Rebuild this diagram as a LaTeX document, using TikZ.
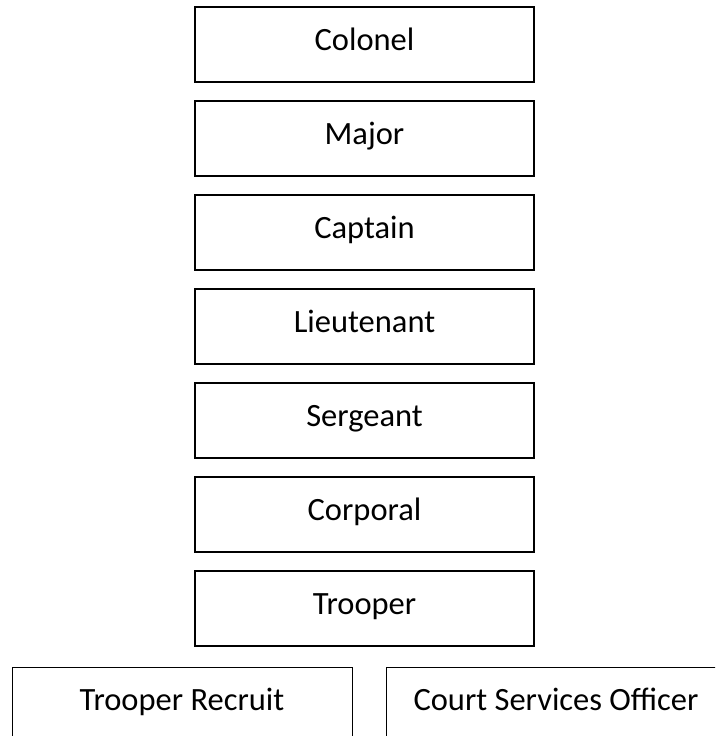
\documentclass[tikz,border=0pt]{standalone}
\usepackage{fontspec}
\setmainfont{Carlito}
\usetikzlibrary{positioning}

\tikzset{
    rankbox/.style={draw, line width=1.4pt, outer sep=0pt, inner sep=0pt,
        minimum width=339pt, minimum height=75pt,
        text height=22pt, text depth=11pt,
        font=\fontsize{32.5}{38}\selectfont},
    entrybox/.style={rankbox, line width=0.9pt, minimum width=340pt}
}

\begin{document}
\begin{tikzpicture}[x=1pt, y=1pt, node distance=19pt]
        \useasboundingbox (0,0) rectangle (715,-736);
        \clip (0,0) rectangle (715,-736);

        \node[rankbox] (colonel) at (364.5,-44.5) {Colonel};
        \node[rankbox, below=of colonel] (major) {Major};
        \node[rankbox, below=of major] (captain) {Captain};
        \node[rankbox, below=of captain] (lieutenant) {Lieutenant};
        \node[rankbox, below=of lieutenant] (sergeant) {Sergeant};
        \node[rankbox, below=of sergeant] (corporal) {Corporal};
        \node[rankbox, below=of corporal] (trooper) {Trooper};

        \node[entrybox, below left=21pt and 12.5pt of trooper.south] (recruit) {Trooper Recruit};
        \node[entrybox, below right=21pt and 21.5pt of trooper.south] (cso) {Court Services Officer};
    \end{tikzpicture}
\end{document}
